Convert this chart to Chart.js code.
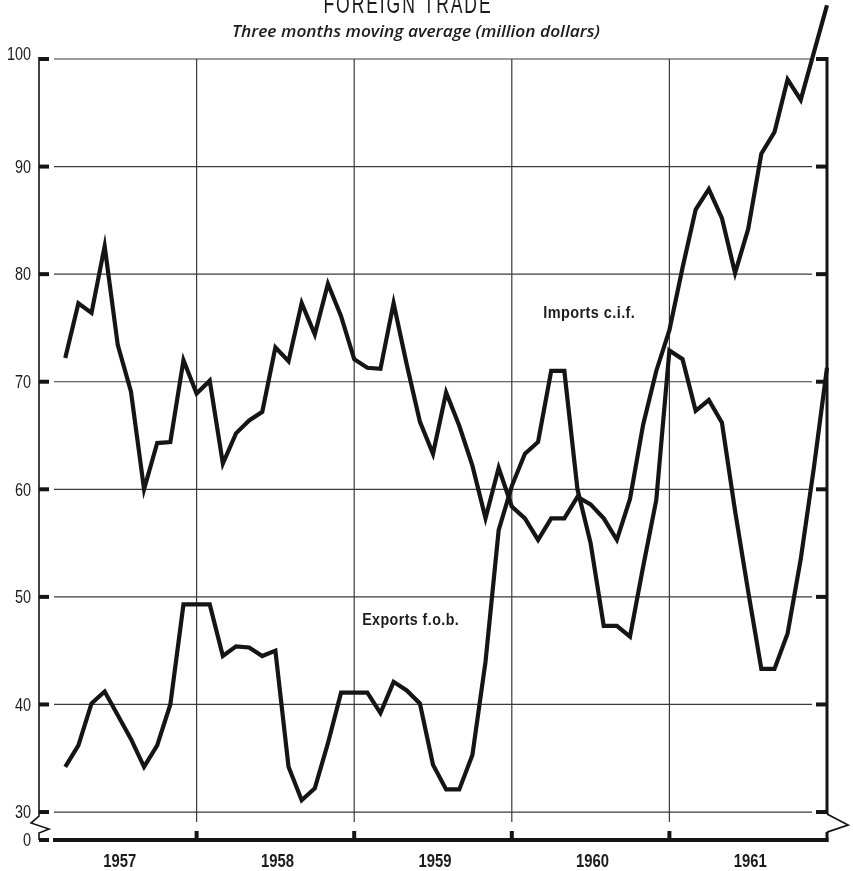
<!DOCTYPE html>
<html><head><meta charset="utf-8">
<script src="https://cdn.jsdelivr.net/npm/chart.js@4/dist/chart.umd.min.js"></script>
<style>html,body{margin:0;padding:0;background:#fff;}canvas{display:block}</style>
</head><body>
<canvas id="c" width="853" height="871"></canvas>
<script>
// ---- data (three months moving average, million dollars), plotted at end of month ----
const months = [
  '1957-02','1957-03','1957-04','1957-05','1957-06','1957-07','1957-08','1957-09','1957-10','1957-11','1957-12',
  '1958-01','1958-02','1958-03','1958-04','1958-05','1958-06','1958-07','1958-08','1958-09','1958-10','1958-11','1958-12',
  '1959-01','1959-02','1959-03','1959-04','1959-05','1959-06','1959-07','1959-08','1959-09','1959-10','1959-11','1959-12',
  '1960-01','1960-02','1960-03','1960-04','1960-05','1960-06','1960-07','1960-08','1960-09','1960-10','1960-11','1960-12',
  '1961-01','1961-02','1961-03','1961-04','1961-05','1961-06','1961-07','1961-08','1961-09','1961-10','1961-11','1961-12'
];
const imports = [
  72.2, 77.3, 76.4, 82.6, 73.4, 69.1, 60.0, 64.3, 64.4, 72.0, 68.9,
  70.1, 62.4, 65.2, 66.4, 67.2, 73.2, 71.9, 77.3, 74.4, 79.1, 76.1, 72.1,
  71.3, 71.2, 77.3, 71.6, 66.3, 63.3, 69.0, 65.9, 62.2, 57.3, 62.0, 58.4,
  57.3, 55.3, 57.3, 57.3, 59.3, 58.6, 57.3, 55.3, 59.1, 66.0, 71.0, 74.8,
  80.6, 86.0, 87.9, 85.2, 80.1, 84.2, 91.2, 93.2, 98.1, 96.2, 100.6, 105.0
];
const exportsFob = [
  34.2, 36.2, 40.1, 41.2, 39.0, 36.8, 34.2, 36.2, 40.0, 49.3, 49.3,
  49.3, 44.5, 45.4, 45.3, 44.5, 45.0, 34.2, 31.1, 32.2, 36.4, 41.1, 41.1,
  41.1, 39.2, 42.1, 41.3, 40.1, 34.4, 32.1, 32.1, 35.3, 44.0, 56.2, 60.3,
  63.3, 64.4, 71.0, 71.0, 60.0, 55.0, 47.3, 47.3, 46.3, 52.8, 59.0, 72.9,
  72.1, 67.3, 68.3, 66.2, 58.0, 50.5, 43.3, 43.3, 46.6, 53.5, 62.0, 71.3
];
const yearLabels = ['1957','1958','1959','1960','1961'];
const yTicks = [30, 40, 50, 60, 70, 80, 90, 100];
const titleText = 'FOREIGN TRADE';
const subtitleText = 'Three months moving average (million dollars)';
const importsLabel = 'Imports c.i.f.';
const exportsLabel = 'Exports f.o.b.';

// month string -> months since start of 1957 (end of month)
const toX = s => (parseInt(s.slice(0,4)) - 1957) * 12 + parseInt(s.slice(5,7));
const yearStart = l => (parseInt(l) - 1957) * 12;
const AXIS_FLOOR = 27.4; // broken axis: the "0" baseline

const SANS = "'Liberation Sans', Arimo, Arial, sans-serif";
const INK = '#151515';
const TEXT = '#1c1c1c';

// draw text horizontally compressed (condensed look)
function condensed(ctx, text, x, y, font, sx, align) {
  ctx.save();
  ctx.font = font;
  ctx.textAlign = align || 'center';
  ctx.translate(x, y);
  ctx.scale(sx, 1);
  ctx.fillText(text, 0, 0);
  ctx.restore();
}
function fitted(ctx, text, cx, y, font, width, spacing) {
  ctx.save();
  ctx.font = font;
  if (spacing && 'letterSpacing' in ctx) ctx.letterSpacing = spacing;
  const w = ctx.measureText(text).width;
  ctx.textAlign = 'center';
  ctx.translate(cx, y);
  ctx.scale(width / w, 1);
  ctx.fillText(text, 0, 0);
  ctx.restore();
}

const frame = {
  id: 'frame',
  beforeDatasetsDraw(chart) {
    const {ctx, chartArea: a, scales: {x, y}} = chart;
    const L = a.left, R = a.right, T = a.top;
    const y30 = y.getPixelForValue(30), y0 = y.getPixelForValue(AXIS_FLOOR);
    const seg = (pts, w, col) => {
      ctx.beginPath(); ctx.lineWidth = w; ctx.strokeStyle = col || INK;
      pts.forEach((p, i) => i ? ctx.lineTo(p[0], p[1]) : ctx.moveTo(p[0], p[1]));
      ctx.stroke();
    };
    ctx.save();
    ctx.lineCap = 'butt';
    // horizontal grid
    yTicks.forEach(v => { const p = y.getPixelForValue(v); seg([[L + 15, p], [R - 15, p]], 1.2, '#3a3a3a'); });
    // vertical year boundaries
    yearLabels.slice(1).forEach(l => {
      const p = x.getPixelForValue(yearStart(l));
      seg([[p, T], [p, y30 + 10]], 1.2, '#3a3a3a');
      seg([[p, y0 - 9], [p, y0]], 4);
    });
    // tick marks
    yTicks.concat([AXIS_FLOOR]).forEach(v => {
      const p = y.getPixelForValue(v);
      seg([[L, p], [L + 10, p]], 4);
      seg([[R - 11, p], [R, p]], 4);
    });
    // left axis with break
    seg([[L, T - 2], [L, y30 + 4], [L - 8, y30 + 11], [L + 10, y30 + 17], [L, y30 + 21], [L, y0]], 1.6);
    // right axis with break
    seg([[R, T - 2], [R, y30 + 2]], 3);
    seg([[R, y30 + 2], [R + 21, y30 + 13], [R, y30 + 20]], 1.8);
    seg([[R, y30 + 20], [R, y0 + 2]], 3);
    // baseline
    seg([[L + 14, y0], [R + 1.5, y0]], 4);
    ctx.restore();
  },
  afterDraw(chart) {
    const {ctx, chartArea: a, scales: {x, y}} = chart;
    ctx.save();
    ctx.fillStyle = TEXT;
    // title (top is cut off by the page edge, as in the original print)
    ctx.textBaseline = 'alphabetic';
    fitted(ctx, titleText, 408, 13, "28px " + SANS, 169, '3px');
    // subtitle
    ctx.textBaseline = 'middle';
    fitted(ctx, subtitleText, 416, 32, "italic 600 16px 'Open Sans', Lato, sans-serif", 368);
    // series labels
    fitted(ctx, importsLabel, x.getPixelForValue(41.9), y.getPixelForValue(76.35), "bold 17px " + SANS, 92, '0.5px');
    fitted(ctx, exportsLabel, x.getPixelForValue(28.3), y.getPixelForValue(47.8), "bold 17px " + SANS, 97, '0.5px');
    // y tick labels
    y.ticks.forEach(t => {
      const lbl = t.value < 30 ? '0' : String(t.value);
      const py = y.getPixelForValue(t.value) + (t.value === 100 ? -5 : 0) + 1;
      condensed(ctx, lbl, a.left - 8, py, "19px " + SANS, 0.76, 'right');
    });
    // x tick labels (years, centred in each year)
    x.ticks.forEach(t => {
      const lbl = yearLabels[Math.floor(t.value / 12)];
      condensed(ctx, lbl, x.getPixelForValue(t.value) + 2, 862, "bold 19px " + SANS, 0.78, 'center');
    });
    ctx.restore();
  }
};

const series = (vals) => months.map((m, i) => ({x: toX(m), y: vals[i]}));
const lineStyle = {
  borderColor: INK, borderWidth: 4.2, pointRadius: 0, tension: 0,
  borderJoinStyle: 'miter', borderCapStyle: 'butt', clip: false, fill: false
};

new Chart(document.getElementById('c'), {
  type: 'line',
  data: {
    datasets: [
      Object.assign({label: importsLabel, data: series(imports)}, lineStyle),
      Object.assign({label: exportsLabel, data: series(exportsFob)}, lineStyle)
    ]
  },
  options: {
    responsive: false, animation: false, devicePixelRatio: 1,
    layout: {padding: {top: 59, right: 26, bottom: 0, left: 0}},
    plugins: {legend: {display: false}, tooltip: {enabled: false}, title: {display: false}},
    scales: {
      x: {
        type: 'linear', min: 0, max: 60,
        grid: {display: false, drawTicks: false}, border: {display: false},
        afterBuildTicks: s => { s.ticks = yearLabels.map(l => ({value: yearStart(l) + 6})); },
        ticks: {display: false},
        afterFit: s => { s.height = 31; }
      },
      y: {
        min: AXIS_FLOOR, max: 100,
        grid: {display: false, drawTicks: false}, border: {display: false},
        afterBuildTicks: s => { s.ticks = [{value: AXIS_FLOOR}].concat(yTicks.map(v => ({value: v}))); },
        ticks: {display: false},
        afterFit: s => { s.width = 39; }
      }
    }
  },
  plugins: [frame]
});
</script>
</body></html>
